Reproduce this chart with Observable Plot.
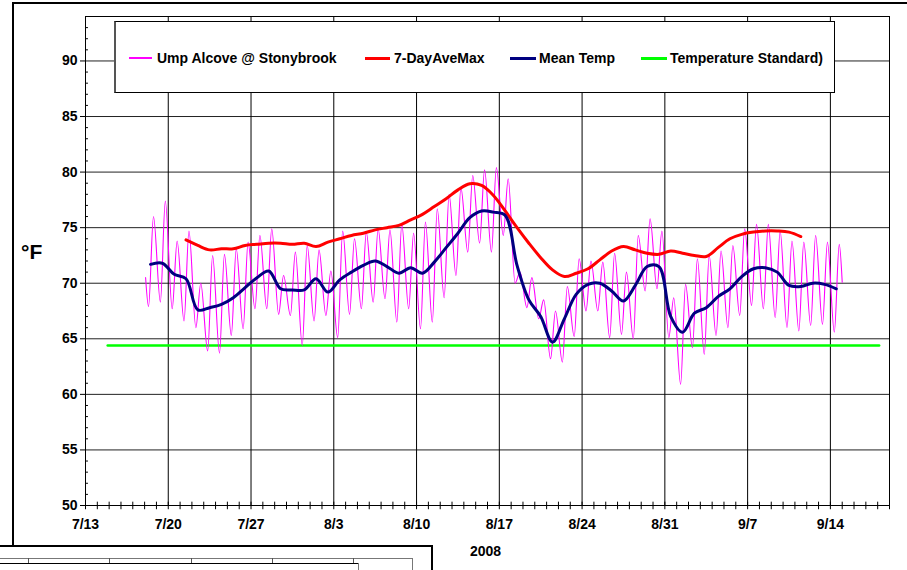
<!DOCTYPE html>
<html>
<head>
<meta charset="utf-8">
<script src="https://cdn.jsdelivr.net/npm/d3@7"></script>
<script src="https://cdn.jsdelivr.net/npm/@observablehq/plot@0.6"></script>
<style>
  html, body { margin: 0; padding: 0; background: #fff; overflow: hidden; }
  #wrap { position: relative; width: 907px; height: 570px; font-family: "Liberation Sans", Arial, sans-serif; font-weight: bold; color: #000; }
  #chart { position: absolute; left: 0; top: 0; }
  .abs { position: absolute; }
  .legend { position: absolute; left: 114px; top: 21px; width: 721px; height: 72px; background: #fff; border: 1px solid #000; border-left: 2px solid #555; box-sizing: border-box; }
  .li { position: absolute; top: 36px; transform: translateY(-50%); font-size: 14px; white-space: nowrap; }
  .ll { position: absolute; }
</style>
</head>
<body>
<div id="wrap">
  <div id="chart"></div>
</div>
<script>
// ---------------- data ----------------
const year = 2008;
const seriesNames = ["Ump Alcove @ Stonybrook", "7-DayAveMax", "Mean Temp", "Temperature Standard)"];
const seriesColors = ["#FF00FF", "#FF0000", "#000080", "#00FF00"];

// x tick labels (weekly)
const xTickLabels = ["7/13", "7/20", "7/27", "8/3", "8/10", "8/17", "8/24", "8/31", "9/7", "9/14"];
const yTicks = [50, 55, 60, 65, 70, 75, 80, 85, 90];

// Hourly logger (Ump Alcove @ Stonybrook): daily morning minimum and afternoon maximum, 7/18 .. 9/14
const loggerFirstDay = "7/18";
const loggerStart = 70.5;   // 7/18 early morning
const loggerEnd = 70.1;     // 9/15 midnight
const loggerMin = [67.9, 68.3, 67.7, 66.6, 66.0, 63.9, 63.7, 65.3, 65.9, 67.7, 67.7, 67.2, 67.1, 64.4,
  66.6, 67.1, 65.1, 67.2, 67.7, 68.3, 68.6, 66.5, 67.7, 65.9, 66.5, 68.7, 70.7, 72.8, 73.6, 72.8, 74.3,
  70.0, 67.8, 66.8, 63.2, 62.9, 65.2, 67.5, 67.5, 65.1, 65.4, 65.0, 69.3, 69.5, 65.1,
  60.9, 64.2, 63.6, 65.3, 66.0, 67.1, 68.0, 67.7, 66.9, 66.0, 65.7, 66.2, 66.3, 65.6];
const loggerMax = [76.0, 77.4, 73.8, 74.7, 70.0, 72.5, 72.6, 73.1, 73.7, 74.3, 74.9, 70.7, 72.8, 73.4,
  73.0, 71.1, 74.7, 74.0, 74.6, 74.9, 74.8, 75.3, 74.5, 75.5, 76.7, 78.0, 78.6, 79.7, 80.2, 80.4, 79.4,
  71.0, 70.5, 68.5, 67.5, 69.7, 72.2, 72.0, 71.9, 72.7, 71.0, 74.3, 75.8, 74.7, 68.7,
  69.9, 72.2, 72.5, 72.9, 73.4, 74.9, 75.3, 75.3, 74.7, 73.8, 73.7, 74.3, 73.7, 73.5];

// 7-day average of daily maxima, 7/21 .. 9/11
const aveMaxFirstDay = "7/21";
const aveMax = [73.9, 73.4, 73.0, 73.1, 73.1, 73.4, 73.5, 73.6, 73.6, 73.5, 73.6,
  73.3, 73.7, 74.0, 74.3, 74.5, 74.8, 75.0, 75.2, 75.7, 76.2, 76.9, 77.6, 78.4, 78.95, 78.8, 77.9,
  76.5, 75.0, 73.6, 72.3, 71.2, 70.6, 70.9, 71.3, 72.1, 72.9, 73.3, 73.0, 72.7, 72.6, 72.9,
  72.7, 72.5, 72.4, 73.2, 74.0, 74.4, 74.6, 74.7, 74.7, 74.6, 74.2];

// Daily mean temperature, 7/18 .. 9/14
const meanFirstDay = "7/18";
const meanTemp = [71.7, 71.8, 70.8, 70.4, 67.6, 67.8, 68.1, 68.7, 69.6, 70.5, 71.1, 69.5, 69.4, 69.4,
  70.4, 69.2, 70.3, 71.0, 71.6, 72.0, 71.5, 70.9, 71.4, 70.9, 71.9, 73.2, 74.5, 75.9, 76.5, 76.4, 76.1,
  71.6, 68.5, 67.0, 64.7, 66.8, 69.0, 69.9, 70.0, 69.3, 68.4, 69.8, 71.5, 71.5, 67.0,
  65.6, 67.3, 67.8, 68.8, 69.5, 70.6, 71.3, 71.4, 71.0, 69.8, 69.7, 70.0, 69.9, 69.5];

// Temperature standard
const standardValue = 64.4;
const standardSpan = ["7/14 21:00", "9/18 03:00"];

const xDomain = ["7/13", "9/19"];

// ---------------- helpers ----------------
const parse = (s) => {
  const [md, hm] = s.split(" ");
  const [m, d] = md.split("/").map(Number);
  const h = hm ? Number(hm.split(":")[0]) : 0;
  return new Date(Date.UTC(year, m - 1, d, h));
};
const addH = (date, h) => new Date(date.getTime() + h * 3600000);
const DAY = 24;

const loggerData = [{t: addH(parse(loggerFirstDay), 2), v: loggerStart}];
loggerMin.forEach((v, i) => {
  const d0 = addH(parse(loggerFirstDay), i * DAY);
  loggerData.push({t: addH(d0, 8), v});
  loggerData.push({t: addH(d0, 18), v: loggerMax[i]});
});
loggerData.push({t: addH(parse(loggerFirstDay), loggerMin.length * DAY), v: loggerEnd});

const aveData = aveMax.map((v, i) => ({t: addH(parse(aveMaxFirstDay), i * DAY + 12), v}));
const meanData = meanTemp.map((v, i) => ({t: addH(parse(meanFirstDay), i * DAY + 12), v}));
const stdData = standardSpan.map(s => ({t: parse(s), v: standardValue}));

const x0 = parse(xDomain[0]), x1 = parse(xDomain[1]);
const weekDates = xTickLabels.map(parse);
const labelOf = new Map(weekDates.map((d, i) => [+d, xTickLabels[i]]));
const allDays = d3.utcDay.range(x0, addH(x1, 1));
const minorY = d3.range(51, 94).filter(v => v % 5 !== 0);

// ---------------- chart ----------------
const chart = Plot.plot({
  width: 907,
  height: 570,
  marginLeft: 85,
  marginRight: 18,
  marginTop: 16,
  marginBottom: 65,
  style: {fontFamily: "'Liberation Sans', Arial, sans-serif", fontSize: "14px", fontWeight: "bold", background: "white", color: "black", overflow: "visible"},
  x: {type: "utc", domain: [x0, x1], ticks: weekDates, tickFormat: d => labelOf.get(+d) || "", tickSize: 0, tickPadding: 14, label: null},
  y: {domain: [50, 94], ticks: yTicks, tickSize: 5, tickPadding: 3, label: null},
  marks: [
    Plot.ruleY(yTicks.slice(1), {stroke: "#222", strokeWidth: 1}),
    Plot.ruleX(weekDates.slice(1), {stroke: "#000", strokeWidth: 1}),
    Plot.ruleX(allDays, {y1: 49.62, y2: 50.3, stroke: "#000", strokeWidth: 1}),
    Plot.ruleY(minorY, {x1: x0, x2: addH(x0, 6), stroke: "#000", strokeWidth: 1}),
    Plot.line(stdData, {x: "t", y: "v", stroke: seriesColors[3], strokeWidth: 2.5}),
    Plot.line(loggerData, {x: "t", y: "v", stroke: seriesColors[0], strokeWidth: 1.1, curve: "monotone-x"}),
    Plot.line(aveData, {x: "t", y: "v", stroke: seriesColors[1], strokeWidth: 3, curve: "catmull-rom"}),
    Plot.line(meanData, {x: "t", y: "v", stroke: seriesColors[2], strokeWidth: 3, curve: "catmull-rom"}),
    Plot.frame({stroke: "#000", strokeWidth: 1})
  ]
});
document.getElementById("chart").appendChild(chart);

// ---------------- overlays: legend, labels, frame lines ----------------
const wrap = document.getElementById("wrap");
function addDiv(css, html) {
  const el = document.createElement("div");
  el.className = "abs";
  el.style.cssText = css;
  if (html != null) el.textContent = html;
  wrap.appendChild(el);
  return el;
}

// legend
const legend = document.createElement("div");
legend.className = "legend";
wrap.appendChild(legend);
const legendPos = [[13, 36, 41], [249, 274, 278], [394, 420, 423], [525, 551, 554]];
const legendWidths = [1.5, 3, 3, 3];
seriesNames.forEach((name, i) => {
  const [a, b, t] = legendPos[i];
  const ln = document.createElement("div");
  ln.className = "ll";
  ln.style.cssText = `left:${a}px;width:${b - a}px;top:${36 - legendWidths[i] / 2}px;height:${legendWidths[i]}px;background:${seriesColors[i]};`;
  legend.appendChild(ln);
  const tx = document.createElement("div");
  tx.className = "li";
  tx.style.left = t + "px";
  tx.textContent = name;
  legend.appendChild(tx);
});

// axis labels
addDiv("left:21px;top:240px;font-size:21px;line-height:24px;", "°F");
addDiv("left:470px;top:543px;font-size:14px;line-height:16px;", String(year));

// outer frame lines (page border of the spreadsheet chart)
addDiv("left:12px;top:2px;width:895px;height:2px;background:#000;");
addDiv("left:12px;top:2px;width:2px;height:544px;background:#000;");
// neighbouring chart's frame at bottom-left
addDiv("left:0px;top:545px;width:433px;height:2px;background:#000;");
addDiv("left:431px;top:545px;width:2px;height:25px;background:#000;");
addDiv("left:0px;top:558px;width:412px;height:1px;background:#777;");
addDiv("left:412px;top:558px;width:1px;height:12px;background:#777;");
addDiv("left:0px;top:563px;width:358px;height:1px;background:#000;");
addDiv("left:358px;top:563px;width:1px;height:7px;background:#777;");
[28, 109, 191, 272, 353].forEach(x => addDiv(`left:${x}px;top:558px;width:1px;height:5px;background:#555;`));
</script>
</body>
</html>
